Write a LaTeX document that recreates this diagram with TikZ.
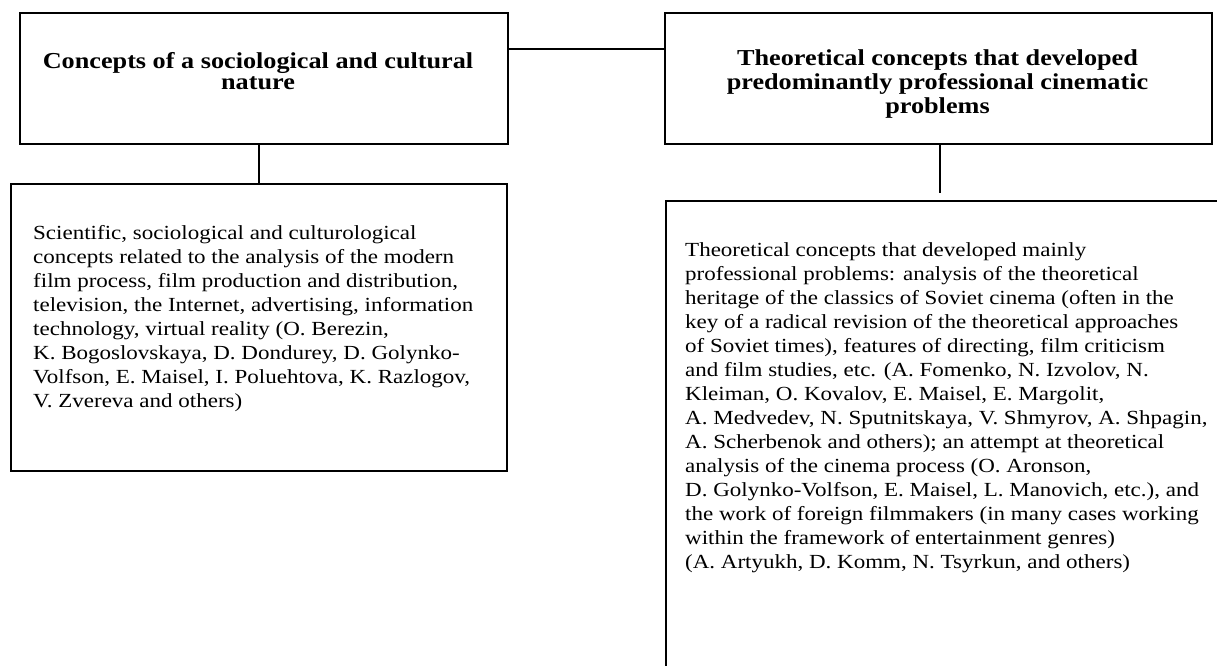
\documentclass[tikz,border=0pt]{standalone}
\usepackage{fontspec}
\setmainfont{Liberation Serif}[FakeStretch=1.15]
\begin{document}
\begin{tikzpicture}[x=1pt,y=-1pt,
  box/.style={draw=black, line width=1.6pt, inner sep=0pt, anchor=north west, fill=none},
  headtext/.style={inner sep=0pt, align=center, font=\fontsize{22.8}{#1}\selectfont\bfseries},
  bodytext/.style={inner sep=0pt, align=left, font=\fontsize{20}{24}\selectfont},
  link/.style={draw=black, line width=1.6pt}]
\useasboundingbox (0,0) rectangle (1217,665);
\clip (0,0) rectangle (1217,665);

% frames
\node[box, minimum width=488pt, minimum height=131pt] (b1) at (19,12) {};
\node[box, minimum width=547pt, minimum height=131pt] (b2) at (664,12) {};
\node[box, minimum width=496pt, minimum height=287pt] (b3) at (10,183) {};
\node[box, minimum width=570pt, minimum height=490pt] (b4) at (665,200) {};

% texts (anchored on the baseline of their last line)
\node[headtext=21, anchor=base] (h1) at (258,89)
  {Concepts of a sociological and cultural\\nature};
\node[headtext=24, anchor=base] (h2) at (937.5,113)
  {Theoretical concepts that developed\\predominantly professional cinematic\\problems};
\node[bodytext, anchor=base west] (t3) at (33,407)
  {Scientific, sociological and culturological\\
   concepts related to the analysis of the modern\\
   film process, film production and distribution,\\
   television, the Internet, advertising, information\\
   technology, virtual reality (O. Berezin,\\
   K. Bogoslovskaya, D. Dondurey, D. Golynko-\\
   Volfson, E. Maisel, I. Poluehtova, K. Razlogov,\\
   V. Zvereva and others)};
\node[bodytext, anchor=base west] (t4) at (685,568)
  {Theoretical concepts that developed mainly\\
   professional problems: analysis of the theoretical\\
   heritage of the classics of Soviet cinema (often in the\\
   key of a radical revision of the theoretical approaches\\
   of Soviet times), features of directing, film criticism\\
   and film studies, etc. (A. Fomenko, N. Izvolov, N.\\
   Kleiman, O. Kovalov, E. Maisel, E. Margolit,\\
   A. Medvedev, N. Sputnitskaya, V. Shmyrov, A. Shpagin,\\
   A. Scherbenok and others); an attempt at theoretical\\
   analysis of the cinema process (O. Aronson,\\
   D. Golynko-Volfson, E. Maisel, L. Manovich, etc.), and\\
   the work of foreign filmmakers (in many cases working\\
   within the framework of entertainment genres)\\
   (A. Artyukh, D. Komm, N. Tsyrkun, and others)};

% connectors
\coordinate (j1) at (0,49);
\coordinate (e4) at (940,193);
\draw[link] (b1.east |- j1) -- (b2.west |- j1);
\draw[link] (b3.north) -- (b3.north |- b1.south);
\draw[link] (b2.south -| e4) -- (e4);
\end{tikzpicture}
\end{document}
